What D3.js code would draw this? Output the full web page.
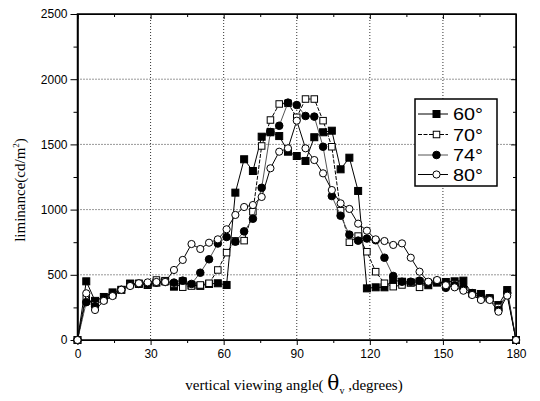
<!DOCTYPE html>
<html>
<head>
<meta charset="utf-8">
<script src="https://cdn.jsdelivr.net/npm/d3@7"></script>
<style>
  body { margin: 0; background: #fff; }
  .axis text { font-family: "Liberation Sans", Arial, sans-serif; font-size: 12px; fill: #000; }
  .axis path, .axis line { stroke: #000; }
</style>
</head>
<body>
<div id="chart"></div>
<script>
// viewing angle (degrees)
var angles = [0, 3.6, 7.2, 10.8, 14.4, 18, 21.6, 25.2, 28.8, 32.4,
  36, 39.6, 43.2, 46.8, 50.4, 54, 57.6, 61.2, 64.8, 68.4,
  72, 75.6, 79.2, 82.8, 86.4, 90, 93.6, 97.2, 100.8, 104.4,
  108, 111.6, 115.2, 118.8, 122.4, 126, 129.6, 133.2, 136.8, 140.4,
  144, 147.6, 151.2, 154.8, 158.4, 162, 165.6, 169.2, 172.8, 176.4, 180];

// luminance, one array per series
var lum60 = [0, 450, 300, 330, 365, 385, 433, 430, 422, 440,
  450, 409, 450, 420, 415, 430, 435, 422, 1130, 1386,
  1296, 1559, 1593, 1564, 1444, 1411, 1373, 1555, 1593, 1605,
  1309, 1398, 1143, 396, 404, 404, 460, 447, 440, 447,
  420, 440, 445, 450, 455, 358, 353, 320, 268, 383, 0];
var lum70 = [0, 320, 270, 310, 345, 385, 425, 435, 425, 460,
  455, 430, 405, 414, 422, 435, 537, 670, 760, 762,
  984, 1488, 1687, 1810, 1815, 1708, 1848, 1848, 1682, 1482,
  992, 750, 797, 677, 524, 435, 409, 422, 440, 404,
  440, 450, 420, 430, 400, 360, 320, 320, 250, 350, 0];
var lum74 = [0, 290, 260, 315, 345, 385, 420, 430, 430, 440,
  445, 440, 455, 430, 516, 619, 740, 790, 754, 833,
  930, 1167, 1595, 1643, 1820, 1802, 1718, 1713, 1482, 1104,
  953, 808, 762, 778, 765, 631, 491, 447, 447, 455,
  440, 450, 400, 420, 400, 360, 330, 320, 230, 360, 0];
var lum80 = [0, 358, 230, 300, 337, 385, 414, 435, 442, 445,
  445, 537, 614, 736, 698, 746, 772, 849, 959, 1020,
  1035, 1097, 1317, 1444, 1470, 1682, 1470, 1380, 1278, 1150,
  1048, 1005, 892, 838, 772, 759, 729, 741, 631, 524,
  447, 460, 420, 404, 378, 345, 307, 307, 217, 340, 0];

var seriesNames = ["60°", "70°", "74°", "80°"];
var xTicks = [0, 30, 60, 90, 120, 150, 180];
var yTicks = [0, 500, 1000, 1500, 2000, 2500];

var series = [
  {name: seriesNames[0], values: lum60, marker: "square", fill: "#000", stroke: "#000", dash: null},
  {name: seriesNames[1], values: lum70, marker: "square", fill: "#fff", stroke: "#000", dash: "4,1.5"},
  {name: seriesNames[2], values: lum74, marker: "circle", fill: "#000", stroke: "#555", dash: null},
  {name: seriesNames[3], values: lum80, marker: "circle", fill: "#fff", stroke: "#000", dash: null}
];

var w = 540, h = 401;
var pLeft = 77.5, pRight = 516, pTop = 14, pBottom = 340;

var svg = d3.select("#chart").append("svg")
  .attr("width", w)
  .attr("height", h);

var xScale = d3.scaleLinear().domain([0, 180]).range([pLeft, pRight]);
var yScale = d3.scaleLinear().domain([0, 2500]).range([pBottom, pTop]);

// dotted grid
svg.append("g").selectAll("line")
  .data(xTicks.slice(1, -1))
  .enter().append("line")
  .attr("x1", function(d) { return xScale(d); })
  .attr("x2", function(d) { return xScale(d); })
  .attr("y1", pTop).attr("y2", pBottom)
  .attr("stroke", "#333").attr("stroke-width", 1)
  .attr("stroke-dasharray", "1,2");
svg.append("g").selectAll("line")
  .data(yTicks.slice(1, -1))
  .enter().append("line")
  .attr("x1", pLeft).attr("x2", pRight)
  .attr("y1", function(d) { return yScale(d); })
  .attr("y2", function(d) { return yScale(d); })
  .attr("stroke", "#333").attr("stroke-width", 1)
  .attr("stroke-dasharray", "1,2");

// axes
var xMinor = d3.range(15, 180, 30);
var yMinor = d3.range(250, 2500, 500);

svg.append("g").attr("class", "axis")
  .attr("transform", "translate(0," + pBottom + ")")
  .call(d3.axisBottom(xScale).tickValues(xTicks).tickSize(5).tickSizeOuter(0).tickPadding(4));
svg.append("g").attr("class", "axis")
  .attr("transform", "translate(0," + pBottom + ")")
  .call(d3.axisBottom(xScale).tickValues(xMinor).tickSize(3).tickFormat("").tickSizeOuter(0));
svg.append("g").attr("class", "axis")
  .attr("transform", "translate(" + pLeft + ",0)")
  .call(d3.axisLeft(yScale).tickValues(yTicks).tickSize(7).tickSizeOuter(0).tickPadding(3).tickFormat(d3.format("d")));
svg.append("g").attr("class", "axis")
  .attr("transform", "translate(" + pLeft + ",0)")
  .call(d3.axisLeft(yScale).tickValues(yMinor).tickSize(4).tickFormat("").tickSizeOuter(0));
svg.append("g").attr("class", "axis")
  .attr("transform", "translate(0," + pTop + ")")
  .call(d3.axisBottom(xScale).tickValues(xTicks).tickSize(5).tickFormat("").tickSizeOuter(0));
svg.append("g").attr("class", "axis")
  .attr("transform", "translate(0," + pTop + ")")
  .call(d3.axisBottom(xScale).tickValues(xMinor).tickSize(3).tickFormat("").tickSizeOuter(0));
svg.append("g").attr("class", "axis")
  .attr("transform", "translate(" + pRight + ",0)")
  .call(d3.axisLeft(yScale).tickValues(yTicks).tickSize(5).tickFormat("").tickSizeOuter(0));
svg.append("g").attr("class", "axis")
  .attr("transform", "translate(" + pRight + ",0)")
  .call(d3.axisLeft(yScale).tickValues(yMinor).tickSize(3).tickFormat("").tickSizeOuter(0));

// frame
svg.append("rect")
  .attr("x", pLeft).attr("y", pTop)
  .attr("width", pRight - pLeft).attr("height", pBottom - pTop)
  .attr("fill", "none").attr("stroke", "#000").attr("stroke-width", 1.5);

// lines and markers
var line = d3.line()
  .x(function(d, i) { return xScale(angles[i]); })
  .y(function(d) { return yScale(d); });

function drawMarker(g, s, cx, cy) {
  if (s.marker == "square") {
    var a = s.fill == "#000" ? 7 : 6.5;
    g.append("rect")
      .attr("x", cx - a / 2).attr("y", cy - a / 2)
      .attr("width", a).attr("height", a)
      .attr("fill", s.fill).attr("stroke", "#000").attr("stroke-width", 1);
  } else {
    g.append("circle")
      .attr("cx", cx).attr("cy", cy)
      .attr("r", s.fill == "#000" ? 3.8 : 3.6)
      .attr("fill", s.fill).attr("stroke", "#000").attr("stroke-width", 1);
  }
}

series.forEach(function(s) {
  var g = svg.append("g");
  g.append("path")
    .datum(s.values)
    .attr("d", line)
    .attr("fill", "none")
    .attr("stroke", s.stroke)
    .attr("stroke-width", 1)
    .attr("stroke-dasharray", s.dash);
  s.values.forEach(function(v, i) {
    drawMarker(g, s, xScale(angles[i]), yScale(v));
  });
});

// legend
var lg = svg.append("g");
lg.append("rect")
  .attr("x", 415).attr("y", 99).attr("width", 82).attr("height", 87)
  .attr("fill", "#fff").attr("stroke", "#000").attr("stroke-width", 1.5);
var rowY = [114, 134.5, 155, 174.5];
series.forEach(function(s, i) {
  lg.append("line")
    .attr("x1", 418).attr("x2", 448)
    .attr("y1", rowY[i]).attr("y2", rowY[i])
    .attr("stroke", s.stroke).attr("stroke-width", 1)
    .attr("stroke-dasharray", s.dash);
  drawMarker(lg, s, 436.5, rowY[i]);
  lg.append("text")
    .attr("x", 453).attr("y", rowY[i] + 6)
    .attr("font-family", "Liberation Sans, Arial, sans-serif")
    .attr("font-size", "16px")
    .attr("textLength", 30)
    .attr("lengthAdjust", "spacingAndGlyphs")
    .text(s.name);
});

// axis titles
var xt = svg.append("text")
  .attr("x", 294).attr("y", 390)
  .attr("text-anchor", "middle")
  .attr("font-family", "Liberation Serif, Times New Roman, serif")
  .attr("font-size", "15px");
xt.append("tspan").text("vertical viewing angle( ");
xt.append("tspan").attr("font-size", "20px").attr("font-family", "DejaVu Serif, serif").text("θ");
xt.append("tspan").attr("font-size", "10px").attr("dy", 4).text("v");
xt.append("tspan").attr("dy", -4).text(" ,degrees)");

var yt = svg.append("text")
  .attr("transform", "translate(25,190) rotate(-90)")
  .attr("text-anchor", "middle")
  .attr("font-family", "Liberation Serif, Times New Roman, serif")
  .attr("font-size", "15px");
yt.append("tspan").text("liminance(cd/m");
yt.append("tspan").attr("font-size", "9px").attr("dy", -6).text("2");
yt.append("tspan").attr("dy", 6).text(")");
</script>
</body>
</html>
